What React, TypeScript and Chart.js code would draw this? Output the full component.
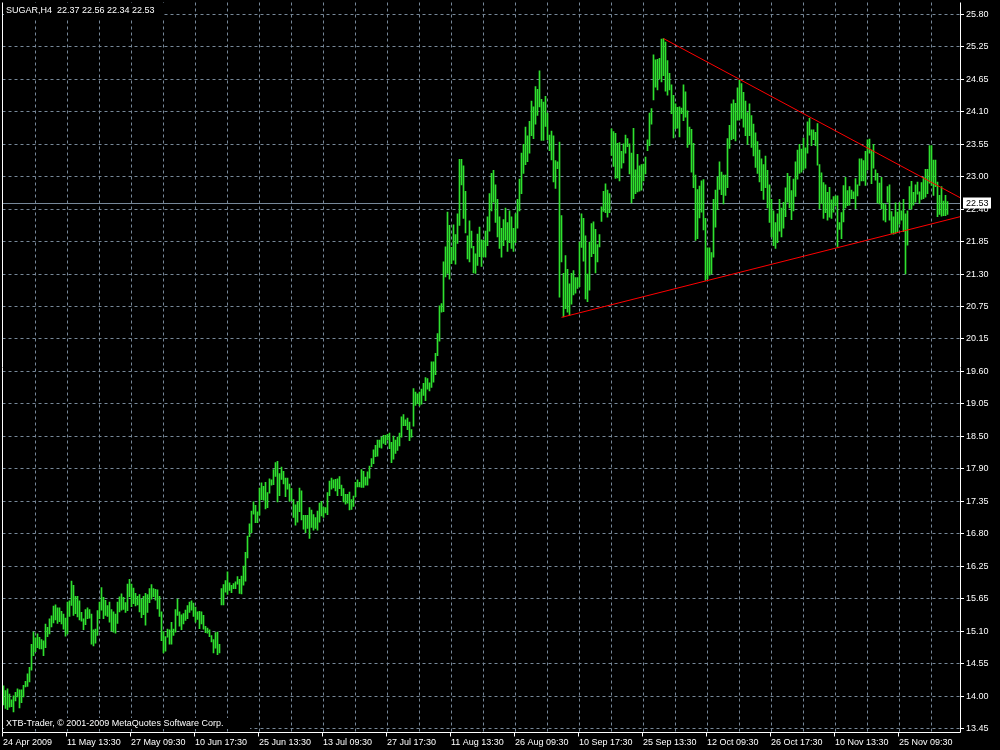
import React, { useEffect, useRef } from "react";
import { Chart, registerables } from "chart.js";

Chart.register(...registerables);

const TITLE_TEXT = "SUGAR,H4  22.37 22.56 22.34 22.53";
const COPYRIGHT_TEXT = "XTB-Trader, \u00a9 2001-2009 MetaQuotes Software Corp.";

// H4 bar highs (one per bar, oldest first)
const HIGHS = [
  14.19, 14.11, 14.14, 14.05, 13.95, 14.02, 14.08, 14.14, 14.12, 14.12,
  14.2, 14.27, 14.4, 14.51, 14.91, 15.12, 15.02, 15.09, 15.03, 14.99,
  14.97, 15.26, 15.2, 15.35, 15.4, 15.57, 15.59, 15.54, 15.54, 15.48,
  15.43, 15.36, 15.64, 15.66, 16.0, 15.93, 15.74, 15.74, 15.66, 15.46,
  15.35, 15.51, 15.54, 15.51, 15.43, 15.16, 15.17, 15.49, 15.64, 15.89,
  15.72, 15.67, 15.58, 15.64, 15.51, 15.47, 15.43, 15.64, 15.73, 15.78,
  15.72, 15.63, 15.95, 16.03, 15.95, 15.88, 15.79, 15.74, 15.77, 15.69,
  15.74, 15.79, 15.77, 15.87, 15.94, 15.87, 15.86, 15.85, 15.74, 15.47,
  15.13, 15.04, 15.17, 15.16, 15.29, 15.17, 15.51, 15.69, 15.47, 15.42,
  15.44, 15.5, 15.58, 15.64, 15.66, 15.62, 15.55, 15.47, 15.48, 15.47,
  15.41, 15.22, 15.19, 15.16, 15.06, 14.99, 15.11, 15.12, 14.91, 15.87,
  15.94, 16.01, 16.16, 15.97, 15.93, 15.96, 15.99, 16.08, 16.03, 16.09,
  16.26, 16.5, 16.78, 16.99, 17.21, 17.37, 17.31, 17.2, 17.61, 17.7,
  17.64, 17.71, 17.53, 17.77, 17.75, 17.93, 18.05, 18.07, 17.86, 17.97,
  17.9, 17.78, 17.78, 17.68, 17.6, 17.41, 17.32, 17.37, 17.61, 17.56,
  17.14, 17.14, 17.14, 17.27, 17.23, 17.15, 17.1, 17.21, 17.35, 17.38,
  17.28, 17.27, 17.53, 17.73, 17.78, 17.75, 17.76, 17.77, 17.81, 17.66,
  17.6, 17.5, 17.5, 17.54, 17.41, 17.47, 17.71, 17.75, 17.71, 17.93,
  17.9, 17.8, 17.89, 17.99, 18.12, 18.27, 18.35, 18.44, 18.44, 18.49,
  18.52, 18.52, 18.54, 18.56, 18.4, 18.51, 18.44, 18.49, 18.56, 18.84,
  18.88, 18.79, 18.82, 18.75, 18.62, 19.33, 19.27, 19.24, 19.27, 19.32,
  19.42, 19.52, 19.5, 19.43, 19.79, 19.79, 19.94, 20.28, 20.76, 20.8,
  21.52, 21.78, 22.38, 22.15, 21.77, 22.16, 21.99, 22.35, 23.29, 23.29,
  23.18, 22.74, 21.97, 22.23, 22.05, 21.79, 21.66, 22.0, 22.12, 21.9,
  21.89, 22.05, 22.3, 22.7, 23.05, 23.1, 22.85, 22.6, 22.3, 22.1,
  22.25, 22.45, 22.2, 22.4, 22.3, 22.1, 22.35, 22.6, 22.95, 23.4,
  23.55, 23.85, 23.7, 23.95, 24.3, 24.2, 24.55, 24.5, 24.82, 24.33,
  24.28, 24.38, 24.09, 23.71, 23.78, 23.7, 23.27, 23.25, 23.59, 22.32,
  21.32, 21.63, 21.39, 21.14, 21.32, 21.37, 21.25, 21.25, 21.86, 22.35,
  22.27, 21.97, 21.31, 21.86, 22.18, 22.21, 22.08, 21.82, 21.99, 22.47,
  22.74, 22.87, 22.76, 22.7, 23.82, 23.77, 23.74, 23.57, 23.58, 23.43,
  23.56, 23.71, 23.65, 23.56, 23.4, 23.83, 23.11, 23.38, 23.18, 23.2,
  23.21, 23.33, 23.63, 24.09, 24.17, 25.1, 25.01, 25.02, 25.04, 25.37,
  25.38, 25.32, 25.0, 24.78, 24.58, 24.4, 24.25, 24.19, 24.2, 24.18,
  24.58, 24.46, 24.13, 23.85, 23.81, 23.57, 23.02, 22.77, 22.83, 22.92,
  22.94, 22.27, 21.76, 21.76, 21.68, 22.6, 22.76, 22.99, 23.25, 23.07,
  23.02, 23.02, 23.65, 23.88, 24.25, 24.32, 24.26, 24.53, 24.66, 24.6,
  24.45, 24.3, 24.1, 24.25, 24.05, 23.9, 23.75, 23.6, 23.45, 23.3,
  23.2, 23.35, 23.1, 22.85, 22.6, 22.4, 22.2, 22.35, 22.6, 22.45,
  22.55, 22.8, 23.05, 23.0, 22.75, 22.95, 23.25, 23.45, 23.55, 23.47,
  23.66, 23.49, 23.94, 24.0, 23.8, 23.8, 23.76, 23.91, 23.2, 23.06,
  22.89, 22.85, 22.72, 22.81, 22.59, 22.65, 22.66, 22.66, 22.2, 22.37,
  22.84, 22.98, 22.75, 22.82, 22.76, 22.73, 22.96, 22.85, 23.3, 23.3,
  23.27, 23.43, 23.63, 23.64, 23.45, 23.55, 23.11, 23.05, 22.88, 22.98,
  22.53, 22.51, 22.82, 22.85, 22.39, 22.3, 22.54, 22.38, 22.55, 22.4,
  22.6, 22.35, 22.4, 22.82, 22.91, 22.72, 22.85, 22.9, 22.73, 22.89,
  22.98, 23.12, 23.12, 23.53, 23.53, 23.28, 23.28, 22.9, 22.67, 22.82,
  22.57, 22.67, 22.56,
];

// H4 bar lows (one per bar, oldest first)
const LOWS = [
  13.86, 13.8, 13.78, 13.82, 13.83, 13.74, 13.93, 14.0, 13.81, 13.9,
  14.0, 14.17, 14.18, 14.26, 14.46, 14.71, 14.78, 14.85, 14.83, 14.83,
  14.71, 14.85, 15.04, 15.09, 15.21, 15.28, 15.33, 15.27, 15.3, 15.26,
  15.17, 15.05, 15.09, 15.39, 15.58, 15.41, 15.44, 15.38, 15.33, 15.31,
  15.16, 15.25, 15.35, 15.36, 14.91, 14.88, 14.93, 15.06, 15.35, 15.5,
  15.35, 15.41, 15.39, 15.29, 15.14, 15.12, 15.1, 15.27, 15.47, 15.5,
  15.51, 15.46, 15.49, 15.73, 15.56, 15.61, 15.57, 15.59, 15.47, 15.37,
  15.42, 15.24, 15.46, 15.63, 15.69, 15.73, 15.67, 15.52, 15.39, 14.97,
  14.76, 14.79, 15.03, 14.91, 14.91, 15.06, 15.12, 15.41, 15.22, 15.16,
  15.26, 15.32, 15.35, 15.46, 15.5, 15.39, 15.29, 15.34, 15.18, 15.26,
  15.17, 15.11, 15.1, 15.04, 14.95, 14.76, 14.84, 14.73, 14.76, 15.59,
  15.59, 15.81, 15.77, 15.84, 15.8, 15.87, 15.87, 15.95, 15.79, 15.78,
  15.93, 16.0, 16.4, 16.77, 16.84, 17.16, 17.01, 17.01, 17.14, 17.41,
  17.4, 17.25, 17.27, 17.52, 17.66, 17.67, 17.81, 17.37, 17.48, 17.76,
  17.68, 17.46, 17.59, 17.38, 17.39, 17.1, 16.97, 17.02, 17.2, 17.06,
  16.9, 16.84, 16.91, 16.74, 16.93, 16.88, 16.91, 16.88, 17.02, 17.13,
  17.1, 17.18, 17.15, 17.48, 17.59, 17.61, 17.56, 17.48, 17.6, 17.48,
  17.37, 17.33, 17.35, 17.23, 17.24, 17.29, 17.46, 17.63, 17.63, 17.62,
  17.62, 17.66, 17.66, 17.78, 17.98, 18.03, 18.15, 18.16, 18.31, 18.3,
  18.38, 18.36, 18.44, 18.29, 18.05, 18.11, 18.21, 18.26, 18.34, 18.49,
  18.69, 18.69, 18.62, 18.43, 18.49, 18.68, 19.04, 19.07, 19.03, 19.06,
  19.21, 19.12, 19.32, 19.29, 19.35, 19.44, 19.57, 19.9, 20.15, 20.65,
  20.66, 21.26, 21.32, 21.22, 21.49, 21.55, 21.48, 21.84, 22.15, 22.85,
  22.27, 22.02, 21.57, 21.52, 21.76, 21.33, 21.32, 21.46, 21.61, 21.44,
  21.61, 21.6, 21.8, 22.05, 22.4, 22.55, 22.2, 21.95, 21.75, 21.6,
  21.8, 21.9, 21.7, 21.85, 21.75, 21.7, 21.85, 22.1, 22.4, 22.7,
  23.05, 23.2, 23.25, 23.4, 23.7, 23.65, 23.9, 24.05, 24.2, 23.62,
  23.62, 23.86, 23.63, 23.44, 23.28, 22.9, 22.79, 23.13, 20.91, 21.52,
  20.57, 20.71, 20.65, 20.6, 20.79, 20.95, 20.98, 21.06, 21.09, 21.77,
  21.53, 20.88, 20.83, 21.03, 21.61, 21.66, 21.33, 21.52, 21.78, 22.22,
  22.39, 22.37, 22.29, 22.37, 23.36, 23.17, 22.96, 22.97, 22.92, 23.14,
  23.23, 23.4, 23.51, 23.04, 22.54, 22.61, 22.7, 22.73, 22.74, 22.76,
  22.92, 23.04, 23.44, 23.53, 23.9, 24.32, 24.54, 24.49, 24.68, 24.63,
  24.74, 24.47, 24.4, 24.49, 24.08, 23.66, 23.82, 23.83, 23.68, 24.08,
  23.96, 24.02, 23.5, 23.55, 23.07, 22.8, 21.89, 21.92, 22.28, 22.38,
  22.07, 21.2, 21.23, 21.29, 21.31, 21.6, 22.12, 22.42, 22.77, 22.68,
  22.52, 22.67, 22.8, 23.48, 23.63, 23.65, 23.61, 23.97, 23.97, 24.0,
  23.85, 23.7, 23.55, 23.7, 23.5, 23.35, 23.15, 23.05, 22.9, 22.75,
  22.6, 22.8, 22.45, 22.2, 21.95, 21.8, 21.75, 21.85, 22.05, 21.95,
  22.1, 22.3, 22.55, 22.45, 22.25, 22.4, 22.65, 22.95, 23.05, 23.07,
  23.11, 23.14, 23.4, 23.71, 23.53, 23.63, 23.53, 23.19, 22.44, 22.53,
  22.27, 22.37, 22.24, 22.29, 22.27, 22.38, 22.49, 21.78, 22.08, 21.92,
  22.21, 22.45, 22.49, 22.5, 22.61, 22.61, 22.44, 22.66, 22.84, 22.92,
  22.92, 22.84, 23.11, 23.4, 22.87, 23.14, 22.93, 22.54, 22.52, 22.44,
  22.24, 22.21, 22.55, 22.24, 22.01, 22.0, 22.01, 22.04, 22.17, 22.24,
  22.04, 21.31, 21.81, 22.44, 22.43, 22.5, 22.55, 22.69, 22.53, 22.6,
  22.61, 22.64, 22.7, 22.88, 22.84, 22.67, 22.82, 22.3, 22.34, 22.31,
  22.32, 22.32, 22.34,
];

const Y_TICK_LABELS = [
  "13.45", "14.00", "14.55", "15.10", "15.65", "16.25", "16.80", "17.35",
  "17.90", "18.50", "19.05", "19.60", "20.15", "20.75", "21.30", "21.85",
  "22.40", "23.00", "23.55", "24.10", "24.65", "25.25", "25.80",
];

const X_TICK_LABELS = [
  "24 Apr 2009", "11 May 13:30", "27 May 09:30", "10 Jun 17:30", "25 Jun 13:30",
  "13 Jul 09:30", "27 Jul 17:30", "11 Aug 13:30", "26 Aug 09:30", "10 Sep 17:30",
  "25 Sep 13:30", "12 Oct 09:30", "26 Oct 17:30", "10 Nov 13:30", "25 Nov 09:30",
];

const X_LABEL_EVERY = 32; // bars between time labels
const X_GRID_EVERY = 16; // bars between vertical grid lines
const Y_FIRST_TICK = 13.45;
const Y_LAST_TICK = 25.8;
const LAST_PRICE = 22.53;
const LAST_PRICE_LABEL = "22.53";

// trendline anchor points (bar index, price)
const UPPER_TREND = [
  { x: 330, y: 25.38 },
  { x: 478.25, y: 22.63 },
];
const LOWER_TREND = [
  { x: 279, y: 20.56 },
  { x: 478.25, y: 22.3 },
];

const BAR_COLOR = "#2fe02f";
const GRID_COLOR = "#778899";
const FONT = "9px 'Liberation Sans', Arial, sans-serif";

const mt4Plugin = {
  id: "mt4frame",
  beforeDraw(chart: any) {
    const ctx = chart.ctx;
    ctx.save();
    ctx.fillStyle = "#000";
    ctx.fillRect(0, 0, chart.width, chart.height);
    ctx.restore();
  },
  beforeDatasetsDraw(chart: any) {
    const { ctx, chartArea, scales } = chart;
    const { left, right, top, bottom } = chartArea;
    const xs = scales.x;
    const ys = scales.y;
    ctx.save();
    ctx.strokeStyle = GRID_COLOR;
    ctx.lineWidth = 1;
    ctx.setLineDash([3, 3]);
    const n = Y_TICK_LABELS.length;
    for (let k = 0; k < n; k++) {
      const v = Y_FIRST_TICK + (k * (Y_LAST_TICK - Y_FIRST_TICK)) / (n - 1);
      const py = Math.floor(ys.getPixelForValue(v)) + 0.5;
      ctx.beginPath();
      ctx.moveTo(left, py);
      ctx.lineTo(right, py);
      ctx.stroke();
    }
    for (let idx = X_GRID_EVERY; idx < xs.max; idx += X_GRID_EVERY) {
      const px = Math.floor(xs.getPixelForValue(idx)) + 0.5;
      if (px >= right) break;
      ctx.beginPath();
      ctx.moveTo(px, top);
      ctx.lineTo(px, bottom);
      ctx.stroke();
    }
    ctx.setLineDash([]);
    const lp = Math.floor(ys.getPixelForValue(LAST_PRICE)) + 0.5;
    ctx.beginPath();
    ctx.moveTo(left, lp);
    ctx.lineTo(right, lp);
    ctx.stroke();
    ctx.restore();
  },
  afterDatasetsDraw(chart: any) {
    const { ctx, chartArea, scales } = chart;
    const { left, right, top, bottom } = chartArea;
    const xs = scales.x;
    const ys = scales.y;
    ctx.save();
    ctx.font = FONT;
    ctx.fillStyle = "#000";
    ctx.fillRect(4, 3, 160, 15);
    ctx.fillRect(4, 718, 246, 11);
    ctx.fillStyle = "#fff";
    ctx.textBaseline = "middle";
    ctx.textAlign = "left";
    ctx.fillText(TITLE_TEXT, 6, 11);
    ctx.fillText(COPYRIGHT_TEXT, 6, 724);

    ctx.strokeStyle = "#fff";
    ctx.lineWidth = 1;
    ctx.beginPath();
    ctx.moveTo(left, top);
    ctx.lineTo(left, bottom);
    ctx.lineTo(right + 0.5, bottom);
    ctx.moveTo(right + 0.5, top);
    ctx.lineTo(right + 0.5, bottom);
    ctx.stroke();

    const n = Y_TICK_LABELS.length;
    for (let k = 0; k < n; k++) {
      const v = Y_FIRST_TICK + (k * (Y_LAST_TICK - Y_FIRST_TICK)) / (n - 1);
      const py = Math.floor(ys.getPixelForValue(v)) + 0.5;
      ctx.beginPath();
      ctx.moveTo(right + 1, py);
      ctx.lineTo(right + 4, py);
      ctx.stroke();
      ctx.fillText(Y_TICK_LABELS[k], right + 6, py);
    }

    X_TICK_LABELS.forEach((lab, k) => {
      const px = Math.floor(xs.getPixelForValue(k * X_LABEL_EVERY)) - 0.5;
      ctx.beginPath();
      ctx.moveTo(px, bottom);
      ctx.lineTo(px, bottom + 4);
      ctx.stroke();
      ctx.fillText(lab, px + 0.5, bottom + 10);
    });

    const lp = Math.floor(ys.getPixelForValue(LAST_PRICE)) + 0.5;
    ctx.fillStyle = "#fff";
    ctx.fillRect(right + 3, lp - 6, 28, 11);
    ctx.fillStyle = "#000";
    ctx.fillText(LAST_PRICE_LABEL, right + 6, lp);
    ctx.restore();
  },
};

export default function App() {
  const canvasRef = useRef<HTMLCanvasElement | null>(null);

  useEffect(() => {
    const canvas = canvasRef.current;
    if (!canvas) return;
    const barData = HIGHS.map((h, i) => ({ x: i, y: [LOWS[i], h] }));
    const chart = new Chart(canvas, {
      type: "bar",
      data: {
        datasets: [
          {
            type: "bar",
            data: barData as any,
            backgroundColor: BAR_COLOR,
            borderWidth: 0,
            borderSkipped: false,
            barThickness: 1,
            grouped: false,
            order: 2,
          } as any,
          {
            type: "line",
            data: UPPER_TREND as any,
            borderColor: "#ff0000",
            borderWidth: 1,
            pointRadius: 0,
            fill: false,
            order: 1,
          } as any,
          {
            type: "line",
            data: LOWER_TREND as any,
            borderColor: "#ff0000",
            borderWidth: 1,
            pointRadius: 0,
            fill: false,
            order: 1,
          } as any,
        ],
      },
      options: {
        responsive: false,
        maintainAspectRatio: false,
        animation: false,
        events: [],
        layout: { padding: { left: 2.5, top: 2.5, right: 40, bottom: 17.5 } },
        scales: {
          x: { type: "linear", display: false, min: -0.5, max: 478.25, offset: false },
          y: { type: "linear", display: false, min: 13.384, max: 26.003 },
        },
        plugins: { legend: { display: false }, tooltip: { enabled: false } },
      } as any,
      plugins: [mt4Plugin],
    });
    return () => chart.destroy();
  }, []);

  return (
    <div
      style={{
        position: "absolute",
        left: 0,
        top: 0,
        width: 1000,
        height: 750,
        background: "#000",
        overflow: "hidden",
      }}
    >
      <canvas ref={canvasRef} width={1000} height={750} style={{ display: "block" }} />
    </div>
  );
}
